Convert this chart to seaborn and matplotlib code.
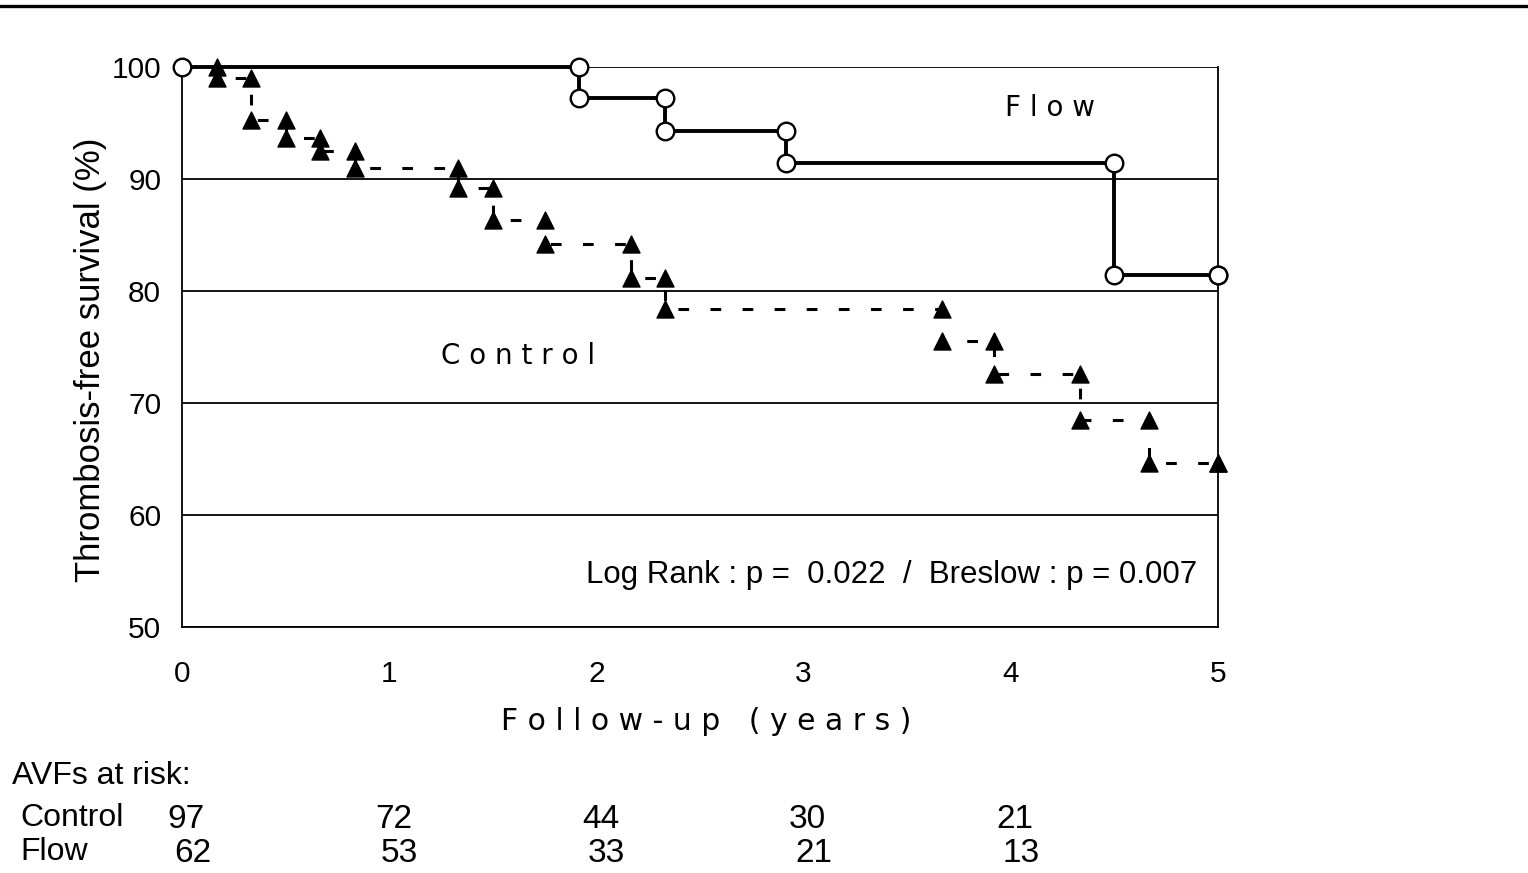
import numpy as np
import matplotlib
matplotlib.use('Agg')
import matplotlib.pyplot as plt
import matplotlib.transforms as mtransforms
from matplotlib.lines import Line2D
import seaborn as sns

# Kaplan-Meier steps (time in years, survival in %)
control_time = [0, 2/12, 4/12, 6/12, 8/12, 10/12, 16/12, 18/12, 21/12, 26/12, 28/12,
                44/12, 47/12, 52/12, 56/12, 5.0]
control_surv = [100, 99.0, 95.3, 93.7, 92.5, 91.0, 89.2, 86.3, 84.2, 81.2, 78.4,
                75.5, 72.6, 68.5, 64.6, 64.6]
flow_time = [0, 23/12, 28/12, 35/12, 54/12, 5.0]
flow_surv = [100, 97.2, 94.3, 91.4, 81.4, 81.4]

# numbers at risk
risk_years = [0, 1, 2, 3, 4]
risk_control = [97, 72, 44, 30, 21]
risk_flow = [62, 53, 33, 21, 13]

x_ticks = [0, 1, 2, 3, 4, 5]
y_ticks = [50, 60, 70, 80, 90, 100]


def step_corners(t, s):
    # points before and after each drop, where the censor marks sit
    xs, ys = [], []
    for i in range(1, len(t)):
        xs += [t[i], t[i]]
        ys += [s[i - 1], s[i]]
    return xs, ys


def spaced(text, gap='\u2008'):
    # letter-spaced look of the original labels
    return gap.join(text)


sns.set_style('white')
plt.rcParams['font.family'] = ['Liberation Sans', 'DejaVu Sans']
plt.rcParams['text.color'] = 'black'
plt.rcParams['xtick.color'] = 'black'
plt.rcParams['ytick.color'] = 'black'

fig = plt.figure(figsize=(15.28, 8.73), dpi=100)
ax = fig.add_axes([0.1191, 0.2818, 0.678, 0.6415])

ax.set_xlim(0, 5)
ax.set_ylim(50, 100)
ax.set_yticks(y_ticks)
ax.set_xticks(x_ticks)
ax.yaxis.grid(True, color='black', lw=1.3)
ax.set_axisbelow(True)

for side in ['left', 'bottom', 'right']:
    ax.spines[side].set_color('black')
    ax.spines[side].set_linewidth(1.3)
ax.spines['top'].set_visible(False)

ax.tick_params(axis='both', direction='out', length=8, width=1.3, colors='black',
               labelsize=21.5)
ax.tick_params(axis='y', pad=7)
ax.tick_params(axis='x', pad=16)

# control: dashed steps with filled triangles
sns.lineplot(x=control_time, y=control_surv, ax=ax, color='black', lw=2.2,
             drawstyle='steps-post', linestyle=(0, (3.5, 7)), estimator=None,
             sort=False, clip_on=False, zorder=3)
cx, cy = step_corners(control_time, control_surv)
sns.scatterplot(x=cx, y=cy, ax=ax, marker='^', s=150, color='black',
                edgecolor='black', clip_on=False, zorder=4)

# flow: solid steps with open circles
sns.lineplot(x=flow_time, y=flow_surv, ax=ax, color='black', lw=2.8,
             drawstyle='steps-post', estimator=None, sort=False,
             clip_on=False, zorder=3)
fx, fy = step_corners(flow_time, flow_surv)
sns.scatterplot(x=[flow_time[0]] + fx, y=[flow_surv[0]] + fy, ax=ax, marker='o',
                s=160, color='white', edgecolor='black', linewidth=1.7,
                clip_on=False, zorder=5)

ax.set_xlabel('')
ax.set_ylabel('')

ax.text(4.19, 96.3, spaced('Flow'), family='DejaVu Sans', fontsize=20,
        ha='center', va='center')
ax.text(1.62, 74.2, spaced('Control'), family='DejaVu Sans', fontsize=20,
        ha='center', va='center')
ax.text(4.9, 54.6, 'Log Rank : p =  0.022  /  Breslow : p = 0.007', fontsize=22.5,
        ha='right', va='center')

fig.text(706 / 1528, 1 - 722 / 873, spaced('Follow-up (years)'),
         family='DejaVu Sans', fontsize=21.5, ha='center', va='center')
fig.text(91 / 1528, 1 - 360 / 873, 'Thrombosis-free survival (%)', fontsize=25,
         rotation=90, ha='center', va='center')

# at-risk table under the axis
trans = mtransforms.blended_transform_factory(ax.transData, fig.transFigure)
fig.text(12 / 1528, 1 - 776 / 873, 'AVFs at risk:', fontsize=23, ha='left', va='center')
fig.text(20 / 1528, 1 - 818 / 873, 'Control', fontsize=23, ha='left', va='center')
fig.text(20 / 1528, 1 - 852 / 873, 'Flow', fontsize=23, ha='left', va='center')
for yr, c, f in zip(risk_years, risk_control, risk_flow):
    fig.text(yr + 0.02, 1 - 819 / 873, str(c), fontsize=24, ha='center', va='center',
             transform=trans)
    fig.text(yr + 0.05, 1 - 853 / 873, str(f), fontsize=24, ha='center', va='center',
             transform=trans)

# rule across the top of the page
fig.add_artist(Line2D([0, 1], [1 - 5.5 / 873] * 2, color='black', lw=2.4,
                      transform=fig.transFigure))

fig.savefig('out.png', dpi=100)
